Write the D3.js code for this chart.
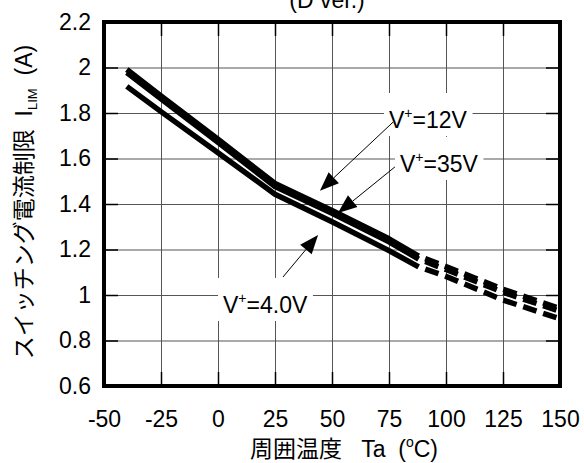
<!doctype html>
<html>
<head>
<meta charset="utf-8">
<script src="https://d3js.org/d3.v7.min.js"></script>
<style>
  body { margin: 0; background: #fff; }
  text { font-family: "Liberation Sans", Arial, sans-serif; fill: #000; }
</style>
</head>
<body>
<svg id="chart" width="584" height="463"></svg>
<script>
// measured points, solid part (-40 .. 88 C)
var temps = [-40, -25, 0, 25, 50, 75, 88]
var ilim12 = [1.991, 1.875, 1.685, 1.49, 1.372, 1.247, 1.171]
var ilim35 = [1.978, 1.862, 1.671, 1.477, 1.359, 1.234, 1.158]
var ilim4 = [1.917, 1.806, 1.625, 1.443, 1.322, 1.195, 1.124]
// dashed part (88 .. 150 C)
var tempsHot = [88, 100, 125, 150]
var ilim12Hot = [1.171, 1.125, 1.025, 0.94]
var ilim35Hot = [1.158, 1.112, 1.012, 0.928]
var ilim4Hot = [1.124, 1.082, 0.978, 0.895]

var xTicks = [-50, -25, 0, 25, 50, 75, 100, 125, 150]
var yTicks = [0.6, 0.8, 1, 1.2, 1.4, 1.6, 1.8, 2, 2.2]

var LEFT = 104, TOP = 22, W = 456, H = 364
var FONT = 23

var svg = d3.select('#chart')
var g = svg.append('g').attr('transform', 'translate(' + LEFT + ',' + TOP + ')')

var x = d3.scaleLinear().domain([-50, 150]).range([0, W])
var y = d3.scaleLinear().domain([0.6, 2.2]).range([H, 0])

// grid
g.append('g').attr('transform', 'translate(0,' + H + ')')
    .call(d3.axisBottom(x).tickValues(xTicks).tickSize(-H).tickFormat(''))
    .call(a => a.select('.domain').remove())
    .selectAll('line').attr('stroke', '#555').attr('stroke-width', 1)
g.append('g')
    .call(d3.axisLeft(y).tickValues(yTicks).tickSize(-W).tickFormat(''))
    .call(a => a.select('.domain').remove())
    .selectAll('line').attr('stroke', '#555').attr('stroke-width', 1)

// inward tick stubs
var stubs = [
    [d3.axisBottom(x).tickValues(xTicks), 'translate(0,' + H + ')'],
    [d3.axisTop(x).tickValues(xTicks), 'translate(0,0)'],
    [d3.axisLeft(y).tickValues(yTicks), 'translate(0,0)'],
    [d3.axisRight(y).tickValues(yTicks), 'translate(' + W + ',0)']
]
stubs.forEach(function (s) {
    g.append('g').attr('transform', s[1])
        .call(s[0].tickSize(-14).tickFormat(''))
        .call(a => a.select('.domain').remove())
        .selectAll('line').attr('stroke', '#000').attr('stroke-width', 1.5)
})

// tick labels
g.append('g').attr('transform', 'translate(0,' + H + ')')
    .call(d3.axisBottom(x).tickValues(xTicks).tickSize(0).tickPadding(25).tickFormat(d => String(d)))
    .call(a => a.select('.domain').remove())
    .selectAll('text').attr('font-size', FONT).attr('font-family', '"Liberation Sans", Arial, sans-serif')
g.append('g')
    .call(d3.axisLeft(y).tickValues(yTicks).tickSize(0).tickPadding(13).tickFormat(d => String(+d.toFixed(1))))
    .call(a => a.select('.domain').remove())
    .selectAll('text').attr('font-size', FONT).attr('font-family', '"Liberation Sans", Arial, sans-serif')

// annotations: label text position, arrow start, arrow tip (data units)
var notes = [
    { v: '12V', at: [75, 1.734], from: [76.8, 1.76], to: [44.7, 1.458] },
    { v: '35V', at: [79.8, 1.541], from: [77.6, 1.563], to: [52.6, 1.36] },
    { v: '4.0V', at: [2.2, 0.921], from: [28.5, 1.079], to: [43.9, 1.264] }
]

notes.forEach(function (n) {
    var bg = g.append('rect').attr('fill', '#fff')
    var t = g.append('text').attr('x', x(n.at[0])).attr('y', y(n.at[1])).attr('font-size', FONT)
    t.append('tspan').text('V')
    t.append('tspan').text('+').attr('font-size', 14).attr('dy', -10)
    t.append('tspan').text('=' + n.v).attr('dy', 10)
    var b = t.node().getBBox()
    bg.attr('x', b.x - 5).attr('y', b.y - 12).attr('width', b.width + 10).attr('height', b.height + 15)

    var x1 = x(n.from[0]), y1 = y(n.from[1]), x2 = x(n.to[0]), y2 = y(n.to[1])
    var ang = Math.atan2(y2 - y1, x2 - x1)
    var L = 19, hw = 7.5
    var bx = x2 - L * Math.cos(ang), by = y2 - L * Math.sin(ang)
    g.append('line').attr('x1', x1).attr('y1', y1).attr('x2', bx).attr('y2', by)
        .attr('stroke', '#000').attr('stroke-width', 1)
    g.append('path')
        .attr('d', 'M' + x2 + ',' + y2 +
            'L' + (bx + hw * Math.sin(ang)) + ',' + (by - hw * Math.cos(ang)) +
            'L' + (bx - hw * Math.sin(ang)) + ',' + (by + hw * Math.cos(ang)) + 'Z')
        .attr('fill', '#000')
})

// curves
g.append('clipPath').attr('id', 'plot').append('rect').attr('width', W).attr('height', H)
var line = d3.line().x(d => x(d[0])).y(d => y(d[1]))
var curves = g.append('g').attr('clip-path', 'url(#plot)')

;[ilim12, ilim35, ilim4].forEach(function (vals) {
    curves.append('path').datum(temps.map((t, i) => [t, vals[i]]))
        .attr('d', line).attr('fill', 'none').attr('stroke', '#000')
        .attr('stroke-width', 5.5).attr('stroke-linejoin', 'round')
})
;[ilim12Hot, ilim35Hot, ilim4Hot].forEach(function (vals) {
    curves.append('path').datum(tempsHot.map((t, i) => [t, vals[i]]))
        .attr('d', line).attr('fill', 'none').attr('stroke', '#000')
        .attr('stroke-width', 5.5).attr('stroke-dasharray', '14,7').attr('stroke-dashoffset', 14)
})

// frame
g.append('rect').attr('width', W).attr('height', H)
    .attr('fill', 'none').attr('stroke', '#000').attr('stroke-width', 4)

// titles
svg.append('text').attr('x', 327).attr('y', 8).attr('text-anchor', 'middle')
    .attr('font-size', FONT).text('(D ver.)')

var xt = svg.append('text').attr('x', LEFT + W / 2 + 12).attr('y', 457).attr('text-anchor', 'middle')
    .attr('font-size', FONT)
xt.append('tspan').text('周囲温度').attr('font-family', '"Noto Sans CJK JP", sans-serif')
xt.append('tspan').text('\u00a0\u00a0\u00a0Ta\u00a0\u00a0(')
xt.append('tspan').text('o').attr('font-size', 14).attr('dy', -10)
xt.append('tspan').text('C)').attr('dy', 10)

var yt = svg.append('text').attr('transform', 'translate(32,' + (TOP + H / 2 - 2) + ') rotate(-90)')
    .attr('text-anchor', 'middle').attr('font-size', FONT)
yt.append('tspan').text('スイッチング電流制限').attr('font-family', '"Noto Sans CJK JP", sans-serif')
yt.append('tspan').text('\u00a0\u00a0I')
yt.append('tspan').text('LIM').attr('font-size', 13).attr('dy', 5)
yt.append('tspan').text('\u00a0\u00a0(A)').attr('dy', -5)
</script>
</body>
</html>
